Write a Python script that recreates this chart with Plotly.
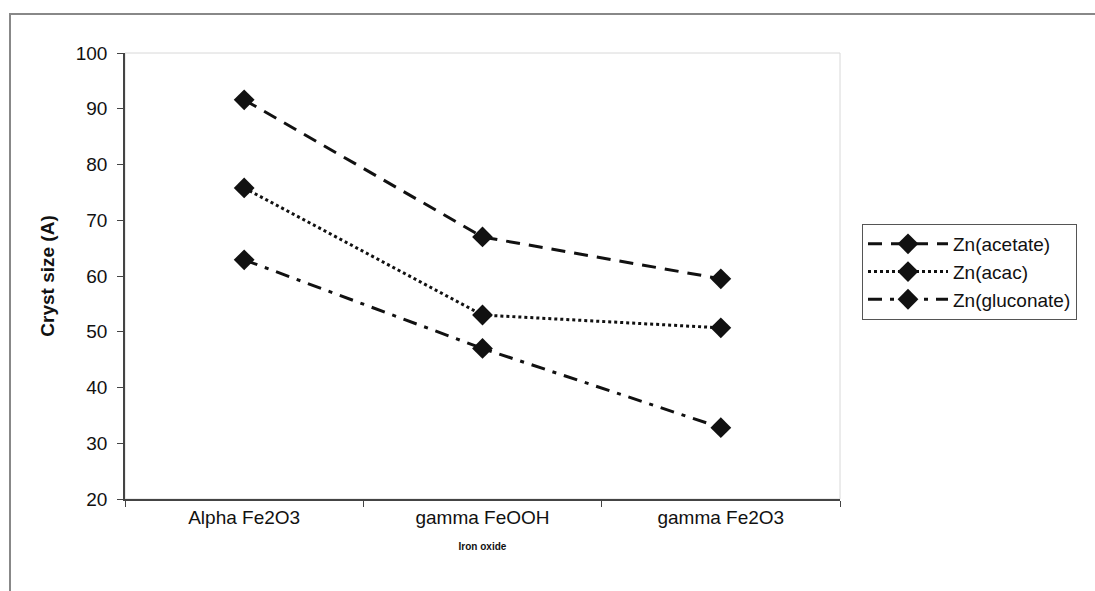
import plotly.graph_objects as go

categories = ["Alpha Fe2O3", "gamma FeOOH", "gamma Fe2O3"]
acetate = [91.6, 67.0, 59.5]
acac = [75.8, 53.0, 50.7]
gluconate = [62.9, 47.0, 32.8]
series_names = ["Zn(acetate)", "Zn(acac)", "Zn(gluconate)"]
dashes = ["14px,9px", "dot", "14px,8px,4px,8px"]

FONT = "Arial, Liberation Sans, sans-serif"

fig = go.Figure()
for name, vals, dash in zip(series_names, [acetate, acac, gluconate], dashes):
    fig.add_trace(go.Scatter(
        x=categories, y=vals, name=name, mode="lines+markers",
        line=dict(color="#111", width=3, dash=dash),
        marker=dict(symbol="diamond", size=16, color="#111"),
    ))

L, R, T, B = 125, 840, 53, 499
W, H = 1095, 591

def px_x(p):
    return (p - L) / (R - L)

def px_y(p):
    return (B - p) / (B - T)

fig.update_layout(
    width=W, height=H,
    margin=dict(l=L, r=W - R, t=T, b=H - B),
    paper_bgcolor="white", plot_bgcolor="white",
    font=dict(family=FONT, color="#111"),
    showlegend=True,
    legend=dict(
        x=px_x(862), y=px_y(224), xanchor="left", yanchor="top",
        bordercolor="#555", borderwidth=1, bgcolor="white",
        font=dict(size=19, family=FONT, color="#111"),
        itemwidth=80, tracegroupgap=0,
    ),
    xaxis=dict(
        type="category", range=[-0.5, 2.5],
        showline=True, linecolor="#444", linewidth=1.5,
        ticks="outside", ticklen=6, tickcolor="#444", tickson="boundaries",
        showgrid=False, zeroline=False,
        tickfont=dict(size=19, family=FONT, color="#111"),
        title=dict(text="<b>Iron oxide</b>", font=dict(size=10, family=FONT, color="#111"), standoff=16),
    ),
    yaxis=dict(
        range=[20, 100], dtick=10,
        showline=True, linecolor="#444", linewidth=1.5,
        ticks="outside", ticklen=6, tickcolor="#444",
        ticklabelstandoff=6,
        showgrid=False, zeroline=False,
        tickfont=dict(size=19, family=FONT, color="#111"),
        title=dict(text="<b>Cryst size (A)</b>", font=dict(size=19, family=FONT, color="#111"), standoff=16),
    ),
    shapes=[
        dict(type="rect", xref="paper", yref="paper", x0=0, x1=1, y0=0, y1=1,
             line=dict(color="#d8d8d8", width=1), layer="below"),
        dict(type="rect", xref="paper", yref="paper",
             x0=px_x(10), x1=px_x(1110), y0=px_y(14), y1=px_y(620),
             line=dict(color="#888", width=2), layer="below"),
    ],
)

fig.write_html("out.html")
